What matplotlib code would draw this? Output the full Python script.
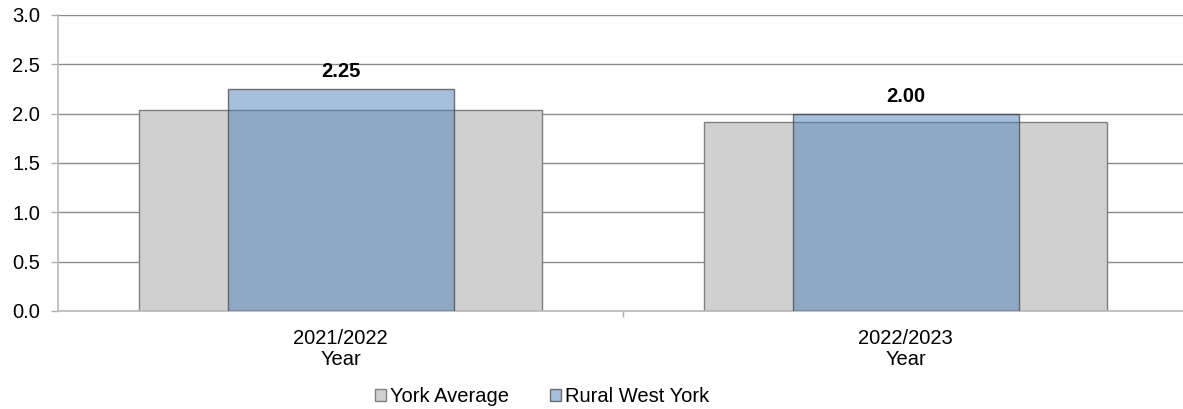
import numpy as np
from matplotlib import pyplot as plt

# chart data
years = ["2021/2022\nYear", "2022/2023\nYear"]
york_average = [2.04, 1.92]
rural_west_york = [2.25, 2.00]
series_names = ["York Average", "Rural West York"]
y_ticks = [0.0, 0.5, 1.0, 1.5, 2.0, 2.5, 3.0]

plt.rcParams['font.family'] = ['Liberation Sans', 'DejaVu Sans']
plt.rcParams['font.size'] = 14.5

fig = plt.figure(figsize=(11.83, 4.09), dpi=100)
ax = fig.add_axes([58 / 1183, 1 - 311 / 409, 1130 / 1183, 296 / 409])

x = np.arange(len(years))
ax.bar(x, york_average, width=0.715, color="#d0d0d0", edgecolor="#7f7f7f",
       linewidth=1.0, label=series_names[0], zorder=2)
blue = ax.bar(x, rural_west_york, width=0.4, color=(0.31, 0.506, 0.741, 0.5),
              edgecolor=(0.25, 0.25, 0.25, 0.7), linewidth=1.0,
              label=series_names[1], zorder=3)

# value labels above the blue bars
for rect, val in zip(blue, rural_west_york):
    ax.annotate("{:.2f}".format(val), (rect.get_x() + rect.get_width() / 2, val),
                xytext=(0, 8.5), textcoords="offset points", ha="center", va="baseline",
                fontweight="bold", fontsize=14.5)

ax.set_xlim(-0.5, 1.5)
ax.set_ylim(0, 3.0)
ax.set_yticks(y_ticks)
ax.set_yticklabels(["{:.1f}".format(t) for t in y_ticks])
ax.set_xticks(x)
ax.set_xticklabels(years, linespacing=1.1)
ax.set_xticks([0.5], minor=True)
ax.tick_params(axis="x", which="major", length=0, pad=13)
ax.tick_params(axis="x", which="minor", length=4, color="#b0b0b0", width=1)
ax.tick_params(axis="y", length=5, color="#b0b0b0", width=1, pad=8)

ax.grid(axis="y", color="#8c8c8c", linewidth=1.0, zorder=0)
ax.set_axisbelow(True)
for side in ["top", "right"]:
    ax.spines[side].set_visible(False)
for side in ["left", "bottom"]:
    ax.spines[side].set_color("#b8b8b8")
    ax.spines[side].set_linewidth(1.2)

fig.legend(loc="center", bbox_to_anchor=(542 / 1183, 1 - 397 / 409), ncol=2,
           frameon=False, handlelength=0.55, handleheight=0.55, handletextpad=0.2,
           columnspacing=2.0, fontsize=14.5)

fig.savefig("out.png", dpi=100)
